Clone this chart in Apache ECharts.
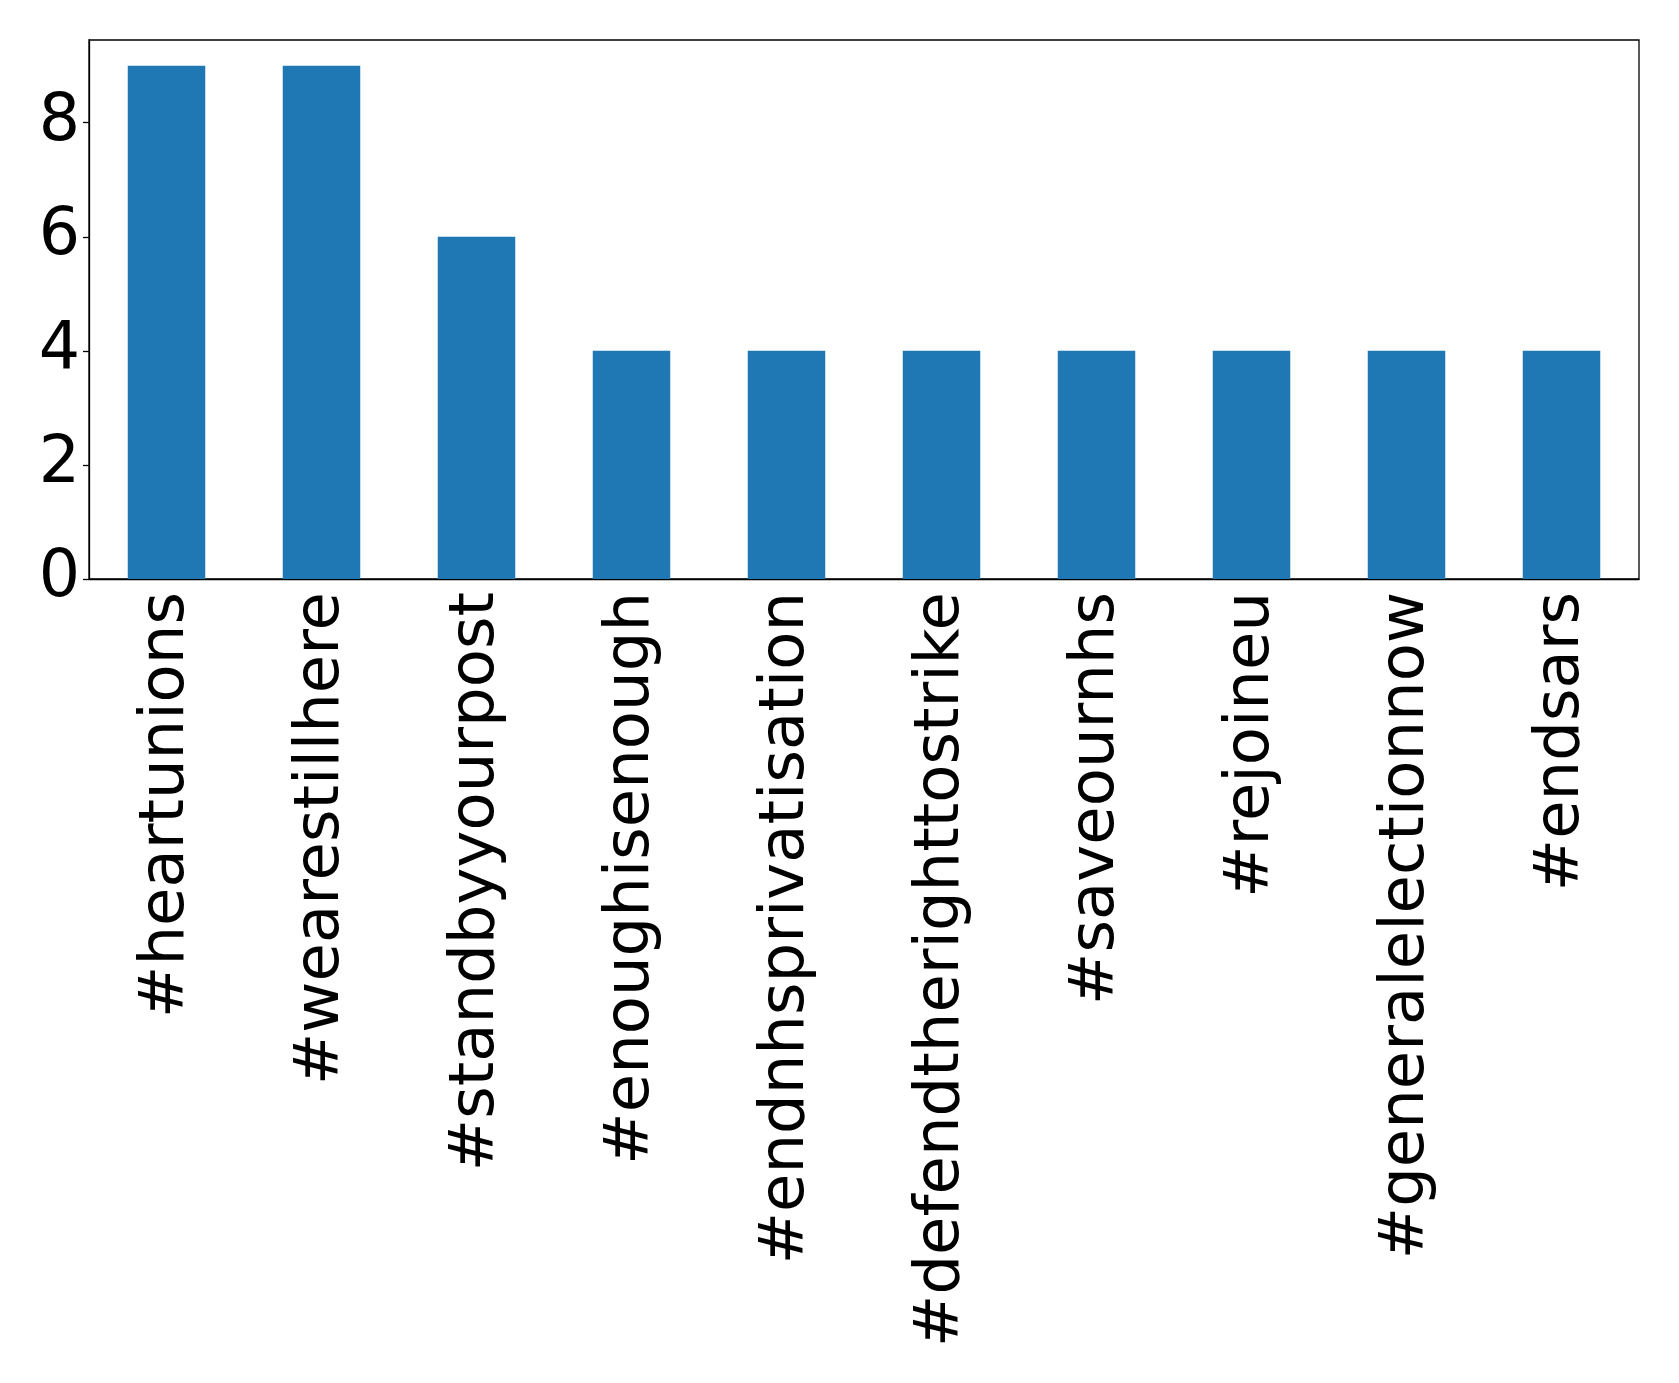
<!DOCTYPE html>
<html>
<head>
<meta charset="utf-8">
<script src="https://cdn.jsdelivr.net/npm/echarts@6/dist/echarts.min.js"></script>
<style>
html,body{margin:0;padding:0;background:#fff;}
#chart{width:1679px;height:1383px;}
</style>
</head>
<body>
<div id="chart"></div>
<script>
const categories = ["#heartunions","#wearestillhere","#standbyyourpost","#enoughisenough","#endnhsprivatisation","#defendtherighttostrike","#saveournhs","#rejoineu","#generalelectionnow","#endsars"];
const counts = [9,9,6,4,4,4,4,4,4,4];
const yTicks = [0,2,4,6,8];

const chart = echarts.init(document.getElementById('chart'));
const font = 'DejaVu Sans';
chart.setOption({
  animation: false,
  backgroundColor: '#fff',
  grid: {left: 89, right: 40, top: 40, bottom: 804, show: true, borderColor: '#000', borderWidth: 1.3, backgroundColor: 'transparent'},
  xAxis: {
    type: 'category',
    data: categories,
    boundaryGap: true,
    axisLine: {lineStyle: {color: '#000', width: 1.3}},
    axisTick: {alignWithLabel: true, length: 6, lineStyle: {color: '#000', width: 1.3}},
    axisLabel: {rotate: 90, interval: 0, margin: 13, color: '#000', fontFamily: font, fontSize: 62.5, padding: [16, 0, 0, 0]}
  },
  yAxis: {
    type: 'value',
    min: 0,
    max: 9.45,
    splitLine: {show: false},
    axisLine: {show: true, lineStyle: {color: '#000', width: 1.3}},
    axisTick: {show: true, length: 6, customValues: yTicks, lineStyle: {color: '#000', width: 1.3}},
    axisLabel: {customValues: yTicks, margin: 9, color: '#000', fontFamily: font, fontSize: 65}
  },
  series: [{
    type: 'bar',
    data: counts,
    barWidth: '50%',
    itemStyle: {color: '#1f77b4'}
  }]
});
</script>
</body>
</html>
